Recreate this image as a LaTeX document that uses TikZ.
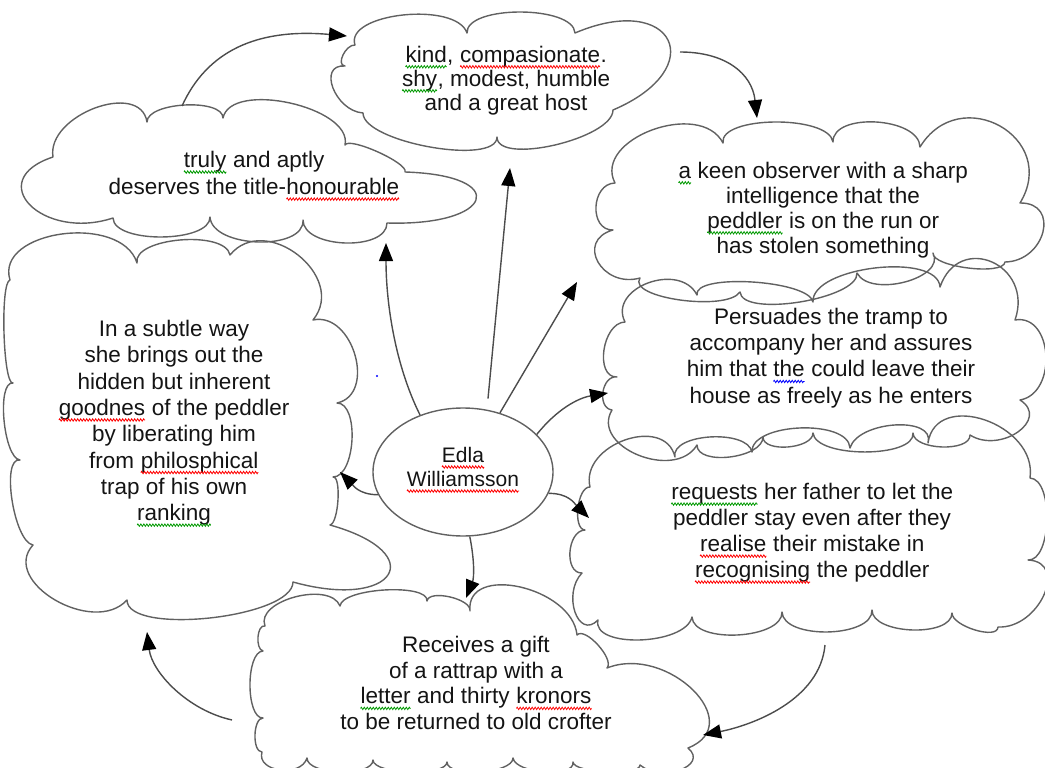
\documentclass[tikz,border=0pt]{standalone}
\usepackage{fontspec}
\setmainfont{Liberation Sans}
\usetikzlibrary{calc,arrows.meta,shapes.geometric,decorations.pathmorphing}

\colorlet{gspell}{green!60!black}
\colorlet{cl}{black!62}
\colorlet{txtc}{black!92}

% wavy spell-check underline
\newcommand\wv[2]{\tikz[baseline=(W.base)]{\node[rectangle,draw=none,inner sep=0pt,outer sep=0pt,minimum width=0pt,minimum height=0pt,anchor=base] (W) at (0,0) {#2};
  \draw[draw=#1, line width=0.8pt, decorate, decoration={zigzag, amplitude=1.2pt, segment length=3pt}]
     ([yshift=-4.5pt]W.base west) -- ([yshift=-4.5pt]W.base east);}}

% cloud outline: start x, start y, list of  mx/my/qx/qy  (lobe through m ending at q)
\newcommand\cloudpath[3]{%
  \draw[cloudline] (#1,#2)
    \foreach \mx/\my/\qx/\qy [remember=\qx as \px (initially #1), remember=\qy as \py (initially #2)] in {#3}
    { .. controls ($0.3333*(\px,\py)+1.3333*(\mx,\my)-0.6667*(\qx,\qy)$)
         and ($0.3333*(\qx,\qy)+1.3333*(\mx,\my)-0.6667*(\px,\py)$) .. (\qx,\qy) } -- cycle;}

\tikzset{
  cloudline/.style={draw=cl, line width=1.4pt, line join=round},
  arr/.style={draw=black!70, line width=1.4pt, -{Triangle[length=18pt,width=14pt,color=black]}},
  txt/.style={align=center, inner sep=0pt, text=txtc},
}

\begin{document}
\begin{tikzpicture}[x=1pt,y=-1pt]
\useasboundingbox (0,0) rectangle (1045,768);

% ---------------- clouds ----------------
% A  kind, compasionate
\cloudpath{355}{45}{403/15/467/33, 520/12/575/33, 668/40/613/110, 555/145/497/137, 430/147/363/113, 333/88/345/66, 343/55/355/45}
% B  truly and aptly
\cloudpath{53}{157}{95/108/147/122, 185/105/223/118, 290/103/345/145, 378/152/405/172, 476/200/387/223, 345/243/303/220, 258/242/210/217, 162/237/113/218, 30/205/53/157}
% C  keen observer
\cloudpath{615}{183}{652/130/723/143, 775/122/833/142, 876/122/920/147, 1000/126/1020/203, 1043/232/1005/262, 968/268/933/253, 905/282/857/273, 800/302/740/292, 680/300/640/278, 598/262/613/230, 596/207/615/183}
% D  Persuades
\cloudpath{625}{322}{648/283/697/295, 752/282/813/302, 875/268/940/287, 992/262/1015/320, 1046/355/1020/400, 1018/432/970/435, 942/447/913/433, 865/452/813/433, 788/447/763/437, 730/457/697/445, 638/455/612/410, 603/392/617/377, 604/350/625/322}
% E  requests
\cloudpath{590}{487}{625/440/675/457, 710/437/752/452, 800/428/850/448, 895/425/928/443, 985/420/1030/478, 1047/520/1028/560, 1044/595/998/627, 975/630/952/613, 912/630/872/610, 828/632/782/612, 738/635/692/617, 640/640/598/620, 575/612/582/573, 570/552/585/530, 578/508/590/487}
% F  In a subtle way
\cloudpath{10}{280}{62/234/137/263, 180/240/230/255, 298/255/313/320, 355/355/337/403, 352/440/333/477, 338/500/330/525, 388/575/293/582, 210/618/127/600, 55/600/33/545, 12/500/20/460, 4/420/13/383, 4/333/10/280}
% G  Receives a gift
\cloudpath{265}{626}{295/597/340/606, 385/590/427/601, 450/597/470/611, 520/587/577/635, 598/645/607/668, 693/690/688/748, 680/770/640/765, 607/772/573/762, 545/772/513/758, 480/772/447/762, 410/772/373/760, 340/772/307/758, 280/770/262/752, 255/735/263/718, 250/685/263/651, 258/637/265/626}

% ---------------- texts ----------------
\node[txt, font=\fontsize{22.5}{24}\selectfont] (kind) at (506,80.5)
  {\wv{gspell}{kind}, \wv{red}{compasionate}.\\ \wv{gspell}{shy}, modest, humble\\ and a great host};
\node[txt, font=\fontsize{22.5}{27}\selectfont] (truly) at (254,176)
  {\wv{gspell}{truly} and aptly\\ deserves the title-\wv{red}{honourable}};
\node[txt, font=\fontsize{22.5}{25}\selectfont] (keen) at (823,210)
  {\wv{gspell}{a} keen observer with a sharp\\ intelligence that the\\ \wv{gspell}{peddler} is on the run or\\ has stolen something};
\node[txt, font=\fontsize{22.5}{26.3}\selectfont] (pers) at (831,358)
  {Persuades the tramp to\\ accompany her and assures\\ him that \wv{blue}{the} could leave their\\ house as freely as he enters};
\node[txt, font=\fontsize{22.5}{26}\selectfont] (req) at (812,533.5)
  {\wv{gspell}{requests} her father to let the\\ peddler stay even after they\\ \wv{red}{realise} their mistake in\\ \wv{red}{recognising} the peddler};
\node[txt, font=\fontsize{22.5}{26.3}\selectfont] (subtle) at (174,423.5)
  {In a subtle way\\ she brings out the\\ hidden but inherent\\ \wv{red}{goodnes} of the peddler\\ by liberating him\\ from \wv{red}{philosphical}\\ trap of his own\hspace*{24pt}\\ \wv{gspell}{ranking}};
\node[txt, font=\fontsize{22.5}{25.7}\selectfont] (gift) at (476,683)
  {Receives a gift\\ of a rattrap with a\\ \wv{gspell}{letter} and thirty \wv{red}{kronors}\\ to be returned to old crofter};

\node[ellipse, draw=cl, line width=1.4pt, minimum width=180pt, minimum height=128pt, inner sep=0pt] (edla) at (463,472) {};
\node[txt, font=\fontsize{21}{24}\selectfont] (edlatxt) at ([yshift=2pt]edla.center)
  {\wv{red}{Edla}\\ \wv{red}{Williamsson}};

\fill[blue] (377,376) circle (1.1);

% ---------------- connectors ----------------
\coordinate (a1s) at (182,106); \coordinate (a1e) at (347,36);
\coordinate (a2s) at (680,52);  \coordinate (a2e) at (757,118);
\coordinate (t3) at (510,168);
\coordinate (t4) at (386,243);
\coordinate (t5) at (577,282);
\coordinate (t6) at (608,393);
\coordinate (t7) at (589,518);
\coordinate (t8) at (340,472);
\coordinate (t9) at (466,598);
\coordinate (a10s) at (825,645); \coordinate (a10e) at (703,735);
\coordinate (a11s) at (232,720); \coordinate (a11e) at (147,632);

\draw[arr] (a1s) .. controls +(25,-55) and +(-90,-8) .. (a1e);
\draw[arr] (a2s) .. controls +(45,0) and +(-5,-45) .. (a2e);
\draw[arr, shorten <=11pt] (edla.69) -- (t3);
\draw[arr] (edla.127) .. controls +(-25,-50) and +(0,60) .. (t4);
\draw[arr] (edla.58) -- (t5);
\draw[arr] (edla.27) .. controls +(20,-25) and +(-30,5) .. (t6);
\draw[arr] (edla.-14) .. controls +(20,0) and +(-15,-15) .. (t7);
\draw[arr] (edla.195) .. controls +(-20,0) and +(12,12) .. (t8);
\draw[arr] (edla.-84) .. controls +(5,25) and +(8,-20) .. (t9);
\draw[arr] (a10s) .. controls +(-5,55) and +(50,-10) .. (a10e);
\draw[arr] (a11s) .. controls +(-45,-10) and +(5,40) .. (a11e);
\end{tikzpicture}
\end{document}
